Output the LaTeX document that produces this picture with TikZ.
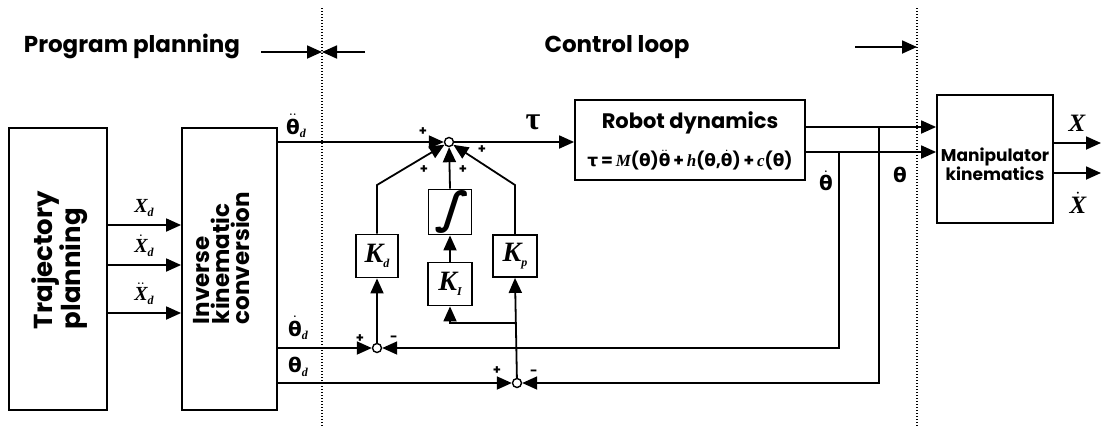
\documentclass[tikz,border=0pt]{standalone}
\usepackage{fontspec}
\setmainfont{Poppins}
\newfontfamily\serifit{Liberation Serif}[ItalicFont=* Italic,BoldItalicFont=* Bold Italic]
\newfontfamily\gr{DejaVu Sans}
\newfontfamily\grb{Liberation Serif}
\newfontfamily\intf{DejaVu Sans}[UprightFont=* Bold,FakeSlant=0.25]
\usetikzlibrary{arrows.meta}
\newcommand{\sbd}[1]{\raisebox{-0.35ex}{\fontsize{12}{12}\selectfont\serifit\bfseries\itshape #1}}
\newcommand{\thx}{{\gr θ}}
\newcommand{\thdot}{\ensuremath{\dot{\hbox{\gr θ}}}}
\newcommand{\thddot}{\ensuremath{\ddot{\hbox{\gr θ}}}}
\newcommand{\Xv}{{\serifit\bfseries\itshape X}}
\begin{document}
\begin{tikzpicture}[x=1pt,y=-1pt,line width=1.8pt,
  box/.style={draw,line width=1.8pt,inner sep=0pt},
  arr/.style={-{Triangle[length=15pt,width=13pt]}},
  sumj/.style={circle,draw,line width=1.4pt,inner sep=0pt,minimum width=8pt,minimum height=9pt,fill=white},
  sep/.style={line width=2.2pt,dash pattern=on 1.4pt off 1.6pt},
  lbl/.style={inner sep=0pt},
  sgn/.style={inner sep=0pt,font=\fontsize{13}{13}\selectfont\bfseries},
  big/.style={font=\fontsize{23}{23}\selectfont\bfseries},
  kf/.style={font=\fontsize{28}{28}\selectfont\serifit\bfseries\itshape},
  thf/.style={font=\fontsize{20}{20}\selectfont\bfseries},
  xf/.style={font=\fontsize{20}{20}\selectfont}]
\useasboundingbox (0,0) rectangle (1102,426);

% separators
\draw[sep] (322,8) -- (322,426);
\draw[sep] (917,8) -- (917,426);

% top labels
\node[lbl,big,anchor=base west] (pp) at (23,52) {Program planning};
\node[lbl,big,anchor=base] (cl) at (617,52) {Control loop};
\coordinate (a1) at (261,52);
\coordinate (d1) at (322,52);
\coordinate (a2) at (365,52);
\coordinate (a3) at (855,47);
\coordinate (d2) at (917,47);
\draw[arr] (a1) -- (d1);
\draw[arr] (a2) -- (d1);
\draw[arr] (a3) -- (d2);

% blocks
\node[box,minimum width=98pt,minimum height=282pt] (traj) at (58,269) {};
\node[lbl,rotate=90,align=left,font=\fontsize{26}{28}\selectfont\bfseries] (trajt) at (60,260) {Trajectory\\planning};
\node[box,minimum width=95pt,minimum height=282pt] (ik) at (229.5,269) {};
\node[lbl,rotate=90,align=left,font=\fontsize{23}{20}\selectfont\bfseries] (ikt) at (222,258) {Inverse\\kinematic\\conversion};
\node[box,minimum width=230pt,minimum height=80pt] (robot) at (690,140) {};
\node[lbl,font=\fontsize{21}{21}\selectfont\bfseries] (robt) at (690,123) {Robot dynamics};
\node[lbl,font=\fontsize{17}{17}\selectfont\bfseries] (form) at (690,160)
  {{\gr\bfseries τ}\,=\,{\serifit\bfseries\itshape M}(\thx)\thddot\,+\,{\serifit\bfseries\itshape h}(\thx,\thdot)\,+\,{\serifit\bfseries\itshape c}(\thx)};
\node[box,minimum width=116pt,minimum height=128pt] (manip) at (995,159) {};
\node[lbl,align=center,font=\fontsize{17}{15}\selectfont\bfseries] (mant) at (995,164) {Manipulator\\kinematics};

\node[box,minimum width=42pt,minimum height=43pt,kf] (kd) at (377,256) {K\sbd{d}};
\node[box,minimum width=43pt,minimum height=45pt] (integ) at (450,212) {\resizebox{!}{33pt}{\intf ∫}};
\node[box,minimum width=44pt,minimum height=43pt,kf] (ki) at (450,284) {K\sbd{I}};
\node[box,minimum width=44pt,minimum height=42pt,kf] (kp) at (515,256) {K\sbd{p}};

% summing junctions
\node[sumj] (s1) at (449,142) {};
\node[sumj] (s2) at (377,348) {};
\node[sumj] (s3) at (517,383) {};

% trajectory -> IK
\coordinate (y1) at (0,225);
\coordinate (y2) at (0,265);
\coordinate (y3) at (0,313);
\draw[arr] (traj.east |- y1) -- (ik.west |- y1);
\draw[arr] (traj.east |- y2) -- (ik.west |- y2);
\draw[arr] (traj.east |- y3) -- (ik.west |- y3);
\node[lbl,xf] (lx1) at (144,208) {\Xv\sbd{d}};
\node[lbl,xf] (lx2) at (144,246) {\ensuremath{\dot{\hbox{\Xv}}}\sbd{d}};
\node[lbl,xf] (lx3) at (144,294) {\ensuremath{\ddot{\hbox{\Xv}}}\sbd{d}};

% forward path
\draw[arr] (ik.east |- s1) -- (s1);
\draw[arr] (s1) -- (robot.west |- s1);
\node[lbl,thf] (lthdd) at (296,126) {\thddot\sbd{d}};
\node[lbl,font=\fontsize{32}{32}\selectfont\grb\bfseries] (ltau) at (533,122) {τ};

% robot -> manipulator
\coordinate (o1) at (0,127);
\coordinate (o2) at (0,152);
\draw[arr] (robot.east |- o1) -- (manip.west |- o1);
\draw[arr] (robot.east |- o2) -- (manip.west |- o2);
\coordinate (xo1) at (1101,143);
\coordinate (xo2) at (1101,173);
\draw[arr] (manip.east |- xo1) -- (xo1);
\draw[arr] (manip.east |- xo2) -- (xo2);
\node[lbl,font=\fontsize{25}{25}\selectfont] (lX) at (1077,123) {\Xv};
\node[lbl,font=\fontsize{25}{25}\selectfont] (lXd) at (1078,203) {\ensuremath{\dot{\hbox{\Xv}}}};

% feedback
\coordinate (f1) at (839,152);
\coordinate (f2) at (879,127);
\draw[arr] (f1) |- (s2);
\draw[arr] (f2) |- (s3);
\node[lbl,thf] (lthd) at (826,181) {\thdot};
\node[lbl,thf] (lth) at (900,175) {\thx};

% desired inputs
\draw[arr] (ik.east |- s2) -- (s2);
\draw[arr] (ik.east |- s3) -- (s3);
\node[lbl,thf] (lthdd2) at (298,328) {\thdot\sbd{d}};
\node[lbl,thf] (lthd2) at (298,367) {\thx\sbd{d}};

% error to gains
\draw[arr] (s2) -- (kd.south);
\draw[arr] (s3) -- (kp.south);
\coordinate (br) at (517,323);
\draw[arr] (br) -| (ki.south);
\draw[arr] (ki.north) -- (integ.south);

% gains to sum
\coordinate (kdup) at (377,185);
\coordinate (kpup) at (515,185);
\draw[arr] (kd.north) -- (kdup) -- (s1);
\draw[arr] (kp.north) -- (kpup) -- (s1);
\draw[arr] (integ.north) -- (s1);

% signs
\node[sgn] (p1) at (423,132) {+};
\node[sgn] (p2) at (482,150) {+};
\node[sgn] (p3) at (424,170) {+};
\node[sgn] (p4) at (463,170) {+};
\node[sgn] (p5) at (360,339) {+};
\node[sgn] (m5) at (394,339) {-};
\node[sgn] (p6) at (497,371) {+};
\node[sgn] (m6) at (534,373) {-};
\end{tikzpicture}
\end{document}
